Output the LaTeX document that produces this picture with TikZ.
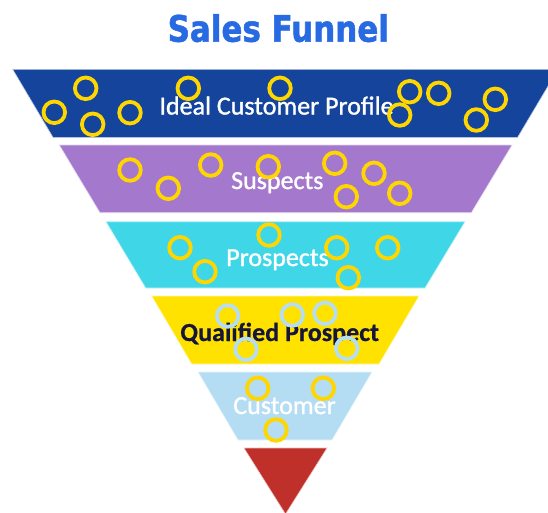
\documentclass[tikz,border=0pt]{standalone}
\usepackage{fontspec}
\newfontfamily\labelfont[FakeBold=1.2]{Carlito}
\newfontfamily\strongfont[FakeBold=0.6]{Carlito}
\newfontfamily\headfont[FakeStretch=0.85,FakeBold=1.5]{DejaVu Sans}
\definecolor{headblue}{RGB}{40,106,226}
\definecolor{icpblue}{RGB}{20,68,155}
\definecolor{suspurple}{RGB}{164,120,204}
\definecolor{prospcyan}{RGB}{63,215,232}
\definecolor{qualyellow}{RGB}{255,226,0}
\definecolor{custblue}{RGB}{180,221,243}
\definecolor{tipred}{RGB}{192,48,42}
\definecolor{ringyellow}{RGB}{255,214,0}
\definecolor{ringblue}{RGB}{183,221,240}
\definecolor{qualtext}{RGB}{22,22,60}
\tikzset{
  layer/.style={draw=white!70!#1, line width=0.6pt, fill=#1},
  stagetext/.style={anchor=base, inner sep=0pt, text=white,
    font=\labelfont\fontsize{26}{26}\selectfont},
  ring/.style={draw=ringyellow, line width=3.8pt},
  bluering/.style={draw=ringblue, line width=3.8pt},
}
\begin{document}
\begin{tikzpicture}[x=1pt,y=-1pt]
  \useasboundingbox (0,0) rectangle (548,512);
  \clip (0,0) rectangle (548,512);

  % heading
  \node[anchor=base, inner sep=0pt, text=headblue,
        font=\headfont\bfseries\fontsize{36.4}{37}\selectfont]
    (title) at (278.3,41.7) {Sales Funnel};

  % funnel layers, widest at the top
  \path[layer=icpblue]    (12.7,69.3) -- (558,69.3) -- (517.6,137.3) -- (53,137.3) -- cycle;
  \path[layer=suspurple]  (59.3,145) -- (512,145) -- (471.3,212.7) -- (100,212.7) -- cycle;
  \path[layer=prospcyan]  (106,221.7) -- (465,221.7) -- (425,288) -- (145.7,288) -- cycle;
  \path[layer=qualyellow] (151.7,296) -- (419,296) -- (379,364) -- (191.7,364) -- cycle;
  \path[layer=custblue]   (198,372) -- (372,372) -- (332,440) -- (238,440) -- cycle;
  \path[layer=tipred]     (244,448) -- (327,448) -- (285.5,514) -- cycle;

  % stage names
  \node[stagetext] (icp)  at (276.5,114.5) {Ideal Customer Profile};
  \node[stagetext] (susp) at (277.3,189) {Suspects};
  \node[stagetext] (prosp) at (277.5,266) {Prospects};
  \node[stagetext, text=qualtext, font=\strongfont\bfseries\fontsize{26}{26}\selectfont]
    (qual) at (279.7,341) {Qualified Prospect};
  \node[stagetext] (cust) at (284.5,414) {Customer};

  % leads drifting through the funnel
  \foreach \cx/\cy in {85.7/88.3, 54.3/112.3, 92.7/124.3, 130/112.7, 188.3/88.3,
                       280/88.3, 409.7/91.7, 399.7/115, 438.7/93.3, 495.3/99.3, 476.3/120,
                       130/170, 168.3/188.3, 210.7/165, 268.3/166.7, 334.7/163.3,
                       346.3/196.7, 374/173.3, 399.7/193.3,
                       180/247.7, 205/271.7, 269/235, 336.7/247.7, 348.3/277.7, 387.7/247.7,
                       257.7/388.3, 323.3/388.3, 276/430}
    \draw[ring] (\cx,\cy) circle[radius=10.8pt];
  \foreach \cx/\cy in {227.7/316, 292.3/315, 325/313.3, 246/349.3, 346.7/348.3}
    \draw[bluering] (\cx,\cy) circle[radius=10.8pt];
\end{tikzpicture}
\end{document}
